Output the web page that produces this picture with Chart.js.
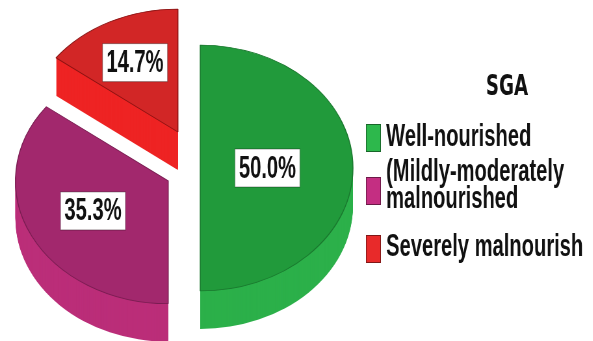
<!DOCTYPE html>
<html>
<head>
<meta charset="utf-8">
<script src="https://cdn.jsdelivr.net/npm/chart.js@4.4.1/dist/chart.umd.min.js"></script>
<style>
  html, body { margin: 0; padding: 0; background: #fff; }
  #wrap { width: 593px; height: 341px; overflow: hidden; }
  #pieChart { transform: scaleX(0.65); transform-origin: 0 0; }
</style>
</head>
<body>
<div id="wrap">
  <canvas id="pieChart" width="912" height="341" style="width:912px;height:341px"></canvas>
</div>
<script>
const legendTitle = 'SGA'
const categories = ['Well-nourished', ['(Mildly-moderately', 'malnourished'], 'Severely malnourish']
const percentages = [50.0, 35.3, 14.7]

const topColors = ['#219a3b', '#a2286d', '#d22626']
const sideColors = ['#2cb04a', '#bb2e79', '#ee2424']
const edgeColors = ['#1a782e', '#7a1d52', '#8a1212']
const keyColors = ['#2db84c', '#c42e82', '#e82a2a']

const textFont = '"Liberation Sans", Arial, sans-serif'

// 3D look: flatten the pie, extrude the sides, pull slices apart
const pie3d = {
  id: 'pie3d',
  beforeDatasetsDraw(chart, args, opts) {
    const ctx = chart.ctx
    const arcs = chart.getDatasetMeta(0).data
    const cx = arcs[0].x
    const cy = arcs[0].y
    ctx.save()
    ctx.translate(cx, cy)
    ctx.scale(1, opts.squash)
    ctx.translate(-cx, -cy)
    const shift = arcs.map((arc, i) => {
      const mid = (arc.startAngle + arc.endAngle) / 2
      return [Math.cos(mid) * opts.explode[i], Math.sin(mid) * opts.explode[i]]
    })
    arcs.forEach((arc, i) => {
      const {x, y, startAngle, endAngle, outerRadius} = arc.getProps(['x', 'y', 'startAngle', 'endAngle', 'outerRadius'])
      const ox = x + shift[i][0]
      const oy = y + shift[i][1]
      ctx.fillStyle = opts.sideColors[i]
      for (let d = opts.depth; d > 0; d--) {
        const dy = d / opts.squash
        ctx.beginPath()
        ctx.moveTo(ox, oy + dy)
        ctx.arc(ox, oy + dy, outerRadius, startAngle, endAngle)
        ctx.closePath()
        ctx.fill()
      }
    })
    arcs.forEach((arc, i) => {
      ctx.save()
      ctx.translate(shift[i][0], shift[i][1])
      arc.draw(ctx)
      ctx.restore()
    })
    ctx.restore()

    // value boxes
    ctx.save()
    ctx.font = 'bold 31px ' + textFont
    ctx.textAlign = 'center'
    ctx.textBaseline = 'middle'
    arcs.forEach((arc, i) => {
      const mid = (arc.startAngle + arc.endAngle) / 2
      const r = opts.explode[i] + arc.outerRadius * opts.labelAt[i]
      const px = arc.x + Math.cos(mid) * r
      const py = arc.y + Math.sin(mid) * r * opts.squash
      const txt = percentages[i].toFixed(1) + '%'
      const w = ctx.measureText(txt).width + 12
      const h = 38
      ctx.fillStyle = '#ffffff'
      ctx.fillRect(px - w / 2, py - h / 2, w, h)
      ctx.strokeStyle = 'rgba(0,0,0,0.35)'
      ctx.lineWidth = 1
      ctx.strokeRect(px - w / 2, py - h / 2, w, h)
      ctx.fillStyle = '#111111'
      ctx.fillText(txt, px, py + 1)
    })
    ctx.restore()
    return false
  }
}

// legend block on the right
const sideLegend = {
  id: 'sideLegend',
  afterDraw(chart, args, opts) {
    const ctx = chart.ctx
    ctx.save()
    ctx.fillStyle = '#111111'
    ctx.textAlign = 'center'
    ctx.textBaseline = 'middle'
    ctx.font = 'bold 28px "DejaVu Sans", sans-serif'
    ctx.fillText(legendTitle, opts.titleX, opts.titleY)
    ctx.font = 'bold 31px ' + textFont
    ctx.textAlign = 'left'
    categories.forEach((label, i) => {
      ctx.fillStyle = keyColors[i]
      ctx.fillRect(opts.boxX, opts.boxY[i], opts.boxW, opts.boxH)
      ctx.strokeStyle = 'rgba(0,0,0,0.45)'
      ctx.lineWidth = 1
      ctx.strokeRect(opts.boxX + 0.5, opts.boxY[i] + 0.5, opts.boxW - 1, opts.boxH - 1)
      ctx.fillStyle = '#111111'
      const lines = Array.isArray(label) ? label : [label]
      lines.forEach((line, j) => {
        ctx.fillText(line, opts.textX, opts.lineY[i] + j * opts.lineGap)
      })
    })
    ctx.restore()
  }
}

const config = {
  type: 'pie',
  data: {
    labels: categories,
    datasets: [{
      data: percentages,
      backgroundColor: topColors,
      borderColor: edgeColors,
      borderWidth: 1.5,
      radius: 235,
    }]
  },
  options: {
    responsive: false,
    animation: false,
    events: [],
    layout: { padding: { left: 0, right: 296, top: 0, bottom: 5 } },
    plugins: {
      legend: { display: false },
      tooltip: { enabled: false },
      pie3d: {
        squash: 0.523,
        depth: 38,
        explode: [0, 55, 77],
        labelAt: [0.44, 0.55, 0.63],
        sideColors: sideColors,
      },
      sideLegend: {
        titleX: 780, titleY: 88,
        boxX: 563, boxW: 23, boxH: 28,
        boxY: [124, 177, 235],
        textX: 594,
        lineY: [137, 172, 247],
        lineGap: 27,
      }
    }
  },
  plugins: [pie3d, sideLegend]
}

const pieChart = new Chart(document.getElementById('pieChart'), config)
</script>
</body>
</html>
